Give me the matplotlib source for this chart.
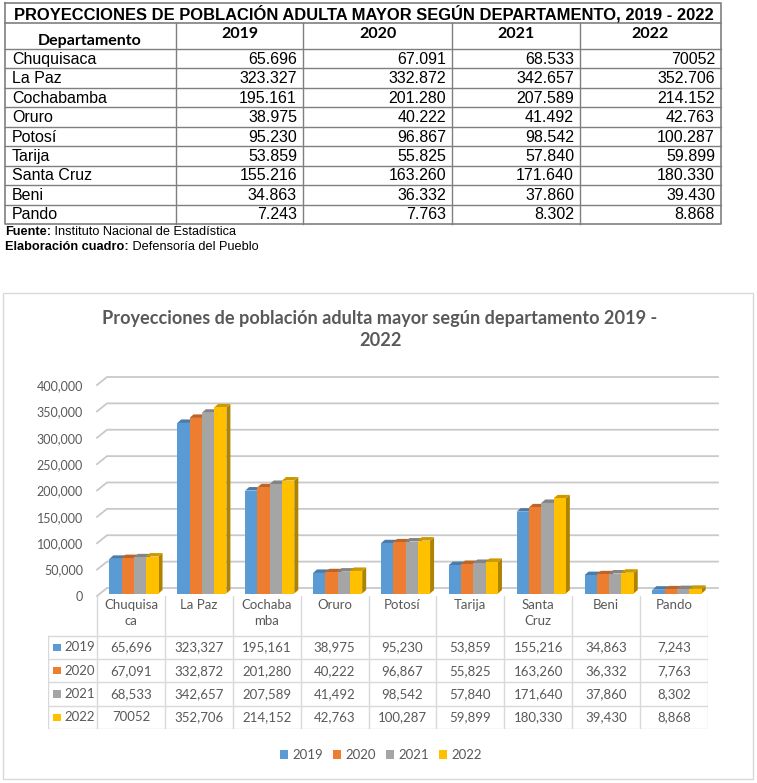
import numpy as np
import matplotlib
matplotlib.use("Agg")
import matplotlib.pyplot as plt
from matplotlib.patches import Polygon, Rectangle, Patch
from matplotlib.colors import to_rgb

# data
departamentos = ["Chuquisaca", "La Paz", "Cochabamba", "Oruro", "Potosí",
                 "Tarija", "Santa Cruz", "Beni", "Pando"]
etiquetas_grafico = ["Chuquisa\nca", "La Paz", "Cochaba\nmba", "Oruro", "Potosí",
                     "Tarija", "Santa\nCruz", "Beni", "Pando"]
anios = ["2019", "2020", "2021", "2022"]
v2019 = [65696, 323327, 195161, 38975, 95230, 53859, 155216, 34863, 7243]
v2020 = [67091, 332872, 201280, 40222, 96867, 55825, 163260, 36332, 7763]
v2021 = [68533, 342657, 207589, 41492, 98542, 57840, 171640, 37860, 8302]
v2022 = [70052, 352706, 214152, 42763, 100287, 59899, 180330, 39430, 8868]
series = [v2019, v2020, v2021, v2022]
# the source writes this one cell without thousands separator
sin_separador = {(3, 0)}

colores = ["#5B9BD5", "#ED7D31", "#A5A5A5", "#FFC000"]
gris_txt = "#595959"
FONT = "Lato"


def darker(c, f):
    r, g, b = to_rgb(c)
    return (r * f, g * f, b * f)


def fmt(v, i, j, sep):
    if (i, j) in sin_separador:
        return str(v)
    return f"{v:,}".replace(",", sep)


W, H = 757, 783
fig = plt.figure(figsize=(W / 100, H / 100), dpi=100)

# background axes in pixel coordinates (top table, frame, title)
bg = fig.add_axes([0, 0, 1, 1])
bg.set_xlim(0, W)
bg.set_ylim(H, 0)
bg.axis("off")

# ---- top table ----
col_x = [5, 176, 303, 452, 580, 721]
row_y = list(np.linspace(49, 224, len(departamentos) + 1))
line_c = "#7F7F7F"
bg.plot([5, 721, 721, 5, 5], [3, 3, 224, 224, 3], color=line_c, lw=1.2)
bg.plot([5, 721], [23, 23], color=line_c, lw=1.2)
for y in row_y[:-1]:
    bg.plot([5, 721], [y, y], color=line_c, lw=1.0)
for x in col_x[1:-1]:
    bg.plot([x, x], [23, 224], color=line_c, lw=1.0)
bg.text(364, 13.5, "PROYECCIONES DE POBLACIÓN ADULTA MAYOR SEGÚN DEPARTAMENTO, 2019 - 2022",
        ha="center", va="center", fontsize=11.9, fontweight="bold",
        family="Liberation Sans")
bg.text(90, 41, "Departamento", ha="center", va="center", fontsize=11.5,
        fontweight="bold", family=FONT)
for j, a in enumerate(anios):
    bg.text((col_x[j + 1] + col_x[j + 2]) / 2, 34, a, ha="center", va="center",
            fontsize=11.5, fontweight="bold", family=FONT)
for i, d in enumerate(departamentos):
    yc = (row_y[i] + row_y[i + 1]) / 2 + 0.5
    bg.text(12, yc, d, ha="left", va="center", fontsize=11.5,
            family="Liberation Sans")
    for j in range(4):
        bg.text(col_x[j + 2] - 6, yc, fmt(series[j][i], j, i, "."),
                ha="right", va="center", fontsize=11.5, family="Liberation Sans")

t1 = bg.text(5, 232, "Fuente:", ha="left", va="center", fontsize=9.2,
             fontweight="bold", family="Liberation Sans")
bg.annotate(" Instituto Nacional de Estadística", xy=(1, 0), xycoords=t1,
            ha="left", va="bottom", fontsize=9.2, family="Liberation Sans")
t2 = bg.text(5, 247, "Elaboración cuadro:", ha="left", va="center", fontsize=9.2,
             fontweight="bold", family="Liberation Sans")
bg.annotate(" Defensoría del Pueblo", xy=(1, 0), xycoords=t2,
            ha="left", va="bottom", fontsize=9.2, family="Liberation Sans")

# ---- chart frame and title ----
bg.add_patch(Rectangle((3, 293), 750, 486, fill=False, edgecolor="#D9D9D9", lw=1))
bg.text(380, 329.5, "Proyecciones de población adulta mayor según departamento 2019 -\n2022",
        ha="center", va="center", fontsize=13.1, fontweight="bold",
        color=gris_txt, family=FONT, linespacing=1.3)

# ---- 3D-looking column chart ----
ax_l, ax_r, ax_t, ax_b = 97, 708, 385, 596
ax = fig.add_axes([ax_l / W, 1 - ax_b / H, (ax_r - ax_l) / W, (ax_b - ax_t) / H])
ax.set_xlim(-0.5, 8.5)
ax.set_ylim(0, 400000)
ax.patch.set_visible(False)
for s in ax.spines.values():
    s.set_visible(False)
ax.set_xticks([])
yt = np.arange(0, 400001, 50000)
ax.set_yticks(yt)
ax.set_yticklabels([f"{v:,}" for v in yt], fontsize=9, color=gris_txt, family=FONT)
ax.tick_params(axis="y", length=0, pad=10)

ppx = (ax_r - ax_l) / 9.0          # pixels per category
ppy = (ax_b - ax_t) / 400000.0     # pixels per unit value

# back wall gridlines with depth
gdx, gdy = 10 / ppx, 8 / ppy
for v in yt:
    ax.plot([-0.5, -0.5 + gdx, 8.5 + gdx], [v, v + gdy, v + gdy],
            color="#C9C9C9", lw=1.3, clip_on=False, zorder=1,
            solid_joinstyle="miter")

x = np.arange(len(departamentos))
bw = 0.181
sx, sy = 3 / ppx, 2.5 / ppy      # shift of bar front face
ddx, ddy = 4 / ppx, 3.5 / ppy    # bar depth
for j, vals in enumerate(series):
    xs = x + (j - 1.5) * bw + sx
    for xc, v in zip(xs, vals):
        x0, x1 = xc - bw / 2, xc + bw / 2
        top = v + sy
        side = Polygon([(x1, sy), (x1 + ddx, sy + ddy), (x1 + ddx, top + ddy), (x1, top)],
                       closed=True, facecolor=darker(colores[j], 0.68), lw=0,
                       zorder=3, clip_on=False)
        cap = Polygon([(x0, top), (x0 + ddx, top + ddy), (x1 + ddx, top + ddy), (x1, top)],
                      closed=True, facecolor=darker(colores[j], 0.8), lw=0,
                      zorder=3, clip_on=False)
        ax.add_patch(side)
        ax.add_patch(cap)
    ax.bar(xs, vals, bw, bottom=sy, color=colores[j], zorder=3, lw=0)

# ---- data table under the chart ----
key_w = 49 / ppx
hdr = 1.7
tb_l, tb_t, tb_b = 48, 596, 729
tax = fig.add_axes([tb_l / W, 1 - tb_b / H, (ax_r - tb_l) / W, (tb_b - tb_t) / H])
tax.set_xlim(-0.5 - key_w, 8.5)
tax.set_ylim(4, -hdr)
tax.axis("off")
tcol = "#D9D9D9"
for k in range(10):
    tax.plot([k - 0.5, k - 0.5], [-hdr, 4], color=tcol, lw=1)
tax.plot([-0.5 - key_w] * 2, [0, 4], color=tcol, lw=1)
for r in range(5):
    tax.plot([-0.5 - key_w, 8.5], [r, r], color=tcol, lw=1)
for i, lab in enumerate(etiquetas_grafico):
    tax.text(i, -hdr + 0.12, lab, ha="center", va="top", fontsize=9.5,
             color=gris_txt, family=FONT, linespacing=1.4)
for j, a in enumerate(anios):
    yc = j + 0.5
    tax.add_patch(Rectangle((-0.5 - key_w + 0.07, yc - 0.16), 0.115, 0.32,
                            facecolor=colores[j], lw=0))
    tax.text(-0.5 - key_w + 0.24, yc, a, ha="left", va="center", fontsize=9.5,
             color=gris_txt, family=FONT)
    for i in range(len(departamentos)):
        tax.text(i, yc, fmt(series[j][i], j, i, ","), ha="center", va="center",
                 fontsize=9.5, color=gris_txt, family=FONT)

# ---- legend ----
handles = [Patch(facecolor=c, label=a) for c, a in zip(colores, anios)]
leg = fig.legend(handles=handles, loc="center", bbox_to_anchor=(381 / W, 1 - 755 / H),
                 ncol=4, frameon=False, fontsize=9.5, handlelength=0.6,
                 handleheight=0.6, handletextpad=0.3, columnspacing=0.8)
for t in leg.get_texts():
    t.set_color(gris_txt)
    t.set_family(FONT)

fig.savefig("out.png", dpi=100)
